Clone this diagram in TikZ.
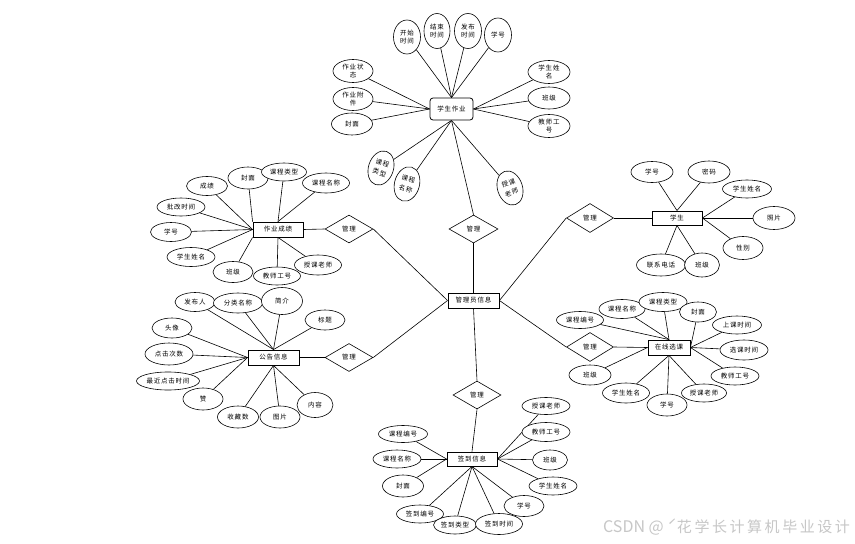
\documentclass[tikz,border=0pt]{standalone}
\usepackage{fontspec}
\newfontfamily\cjk[LetterSpace=12]{Noto Sans CJK SC}
\newfontfamily\wmlat{Noto Sans CJK SC}
\newfontfamily\wmcn[LetterSpace=17]{Noto Sans CJK SC}
\usetikzlibrary{shapes.geometric,backgrounds}
\begin{document}
\begin{tikzpicture}[x=1pt,y=-1pt,
  every node/.style={font=\cjk\fontsize{6.5}{8}\selectfont, align=center},
  attr/.style 2 args={ellipse, draw, line width=0.6pt, fill=white, inner sep=0pt, minimum width=#1pt, minimum height=#2pt},
  tilt/.style={font=\cjk\fontsize{6.5}{10}\selectfont},
  ent/.style={draw, line width=0.9pt, fill=white, inner sep=0pt, minimum width=50pt, minimum height=15pt},
  rel/.style={diamond, draw, line width=0.6pt, fill=white, aspect=1.7, inner sep=0pt, minimum width=48pt, minimum height=28pt},
  conn/.style={draw, line width=0.6pt}]
\useasboundingbox (0,0) rectangle (855,544);

% ---------- top cluster: 学生作业 ----------
\node[draw, line width=0.8pt, rounded corners=3pt, fill=white, inner sep=0pt, minimum width=43pt, minimum height=22pt] (zy) at (451.5,109) {学生作业};
\node[attr={27}{34}] (t1) at (407,37) {开始\\时间};
\node[attr={26}{35}] (t2) at (437,31) {结束\\时间};
\node[attr={27}{35}] (t3) at (468,31) {发布\\时间};
\node[attr={27}{34}] (t4) at (498,35) {学号};
\node[attr={40}{23}] (t5) at (353,71) {作业状\\态};
\node[attr={40}{23}] (t6) at (353,99) {作业附\\件};
\node[attr={41}{22}] (t7) at (352,124) {封面};
\node[attr={42}{23}] (t8) at (549,72) {学生姓\\名};
\node[attr={42}{22}] (t9) at (549,98) {班级};
\node[attr={42}{23}] (t10) at (549,126) {教师工\\号};
\node[attr={25}{35}, tilt, rotate=-18] (t11) at (381,168) {课程\\类型};
\node[attr={25}{35}, tilt, rotate=-15] (t12) at (407,184) {课程\\名称};
\node[attr={25}{35}, tilt, rotate=18] (t13) at (510,188) {授课\\老师};

% ---------- center ----------
\node[rel, minimum width=49pt] (m1) at (473.5,229) {管理};
\node[ent, minimum width=51pt] (adm) at (473.5,300.5) {管理员信息};
\node[rel] (m2) at (349,229) {管理};
\node[rel, minimum width=47pt, minimum height=29pt] (m3) at (590,218) {管理};
\node[rel] (m4) at (349,357.5) {管理};
\node[rel, minimum width=47pt, minimum height=29pt] (m5) at (590,347) {管理};
\node[rel] (m6) at (477,395) {管理};

% ---------- 作业成绩 ----------
\node[ent] (cj) at (278,229.5) {作业成绩};
\node[attr={41}{19}] (cjb) at (207,186) {成绩};
\node[attr={40}{22}] (cjf) at (248,178) {封面};
\node[attr={45}{18}] (cjl) at (284,172) {课程类型};
\node[attr={47}{20}] (cjm) at (326,183) {课程名称};
\node[attr={48}{18}] (cjp) at (181,207) {批改时间};
\node[attr={41}{19}] (cjx) at (171,232) {学号};
\node[attr={48}{19}] (cjn) at (191,257) {学生姓名};
\node[attr={40}{21}] (cjc) at (233,272) {班级};
\node[attr={47}{18}] (cjg) at (277,276) {教师工号};
\node[attr={47}{20}] (cjt) at (318,265) {授课老师};

% ---------- 学生 ----------
\node[ent, minimum height=14pt] (xs) at (677,218) {学生};
\node[attr={42}{21}] (xsh) at (652,172) {学号};
\node[attr={42}{22}] (xsm) at (709,172) {密码};
\node[attr={49}{18}] (xsn) at (747,189) {学生姓名};
\node[attr={42}{23}] (xsz) at (774,218) {照片};
\node[attr={40}{23}] (xsx) at (743,248) {性别};
\node[attr={49}{22}] (xsd) at (661,265) {联系电话};
\node[attr={35}{24}] (xsb) at (702,265) {班级};

% ---------- 公告信息 ----------
\node[ent, minimum width=51pt] (gg) at (273.5,357.5) {公告信息};
\node[attr={40}{19}] (ggf) at (195,302) {发布人};
\node[attr={49}{20}] (ggl) at (238,303) {分类名称};
\node[attr={41}{27}] (ggj) at (282,301) {简介};
\node[attr={40}{20}] (ggb) at (325,320) {标题};
\node[attr={40}{20}] (ggt) at (172,328) {头像};
\node[attr={48}{22}] (ggd) at (169,354) {点击次数};
\node[attr={63}{18}] (ggz) at (168,381) {最近点击时间};
\node[attr={40}{22}] (ggs) at (203,399) {赞};
\node[attr={41}{22}] (ggc) at (238,417) {收藏数};
\node[attr={40}{22}] (ggp) at (280,417) {图片};
\node[attr={36}{25}] (ggn) at (315,405) {内容};

% ---------- 在线选课 ----------
\node[ent, minimum width=42pt] (xk) at (669,347.5) {在线选课};
\node[attr={47}{17}] (xkb) at (580,320) {课程编号};
\node[attr={46}{19}] (xkm) at (622,309) {课程名称};
\node[attr={48}{19}] (xkl) at (663,302) {课程类型};
\node[attr={37}{20}] (xkf) at (698,312) {封面};
\node[attr={49}{18}] (xks) at (737,325) {上课时间};
\node[attr={48}{20}] (xkx) at (744,350) {选课时间};
\node[attr={48}{18}] (xkg) at (735,376) {教师工号};
\node[attr={45}{18}] (xkt) at (704,393) {授课老师};
\node[attr={40}{22}] (xkh) at (667,405) {学号};
\node[attr={47}{20}] (xkn) at (626,393) {学生姓名};
\node[attr={42}{20}] (xkc) at (590,375) {班级};

% ---------- 签到信息 ----------
\node[ent, minimum height=14pt] (qd) at (472,459) {签到信息};
\node[attr={49}{17}] (qdb) at (403,434) {课程编号};
\node[attr={48}{18}] (qdm) at (397,459) {课程名称};
\node[attr={41}{22}] (qdf) at (403,486) {封面};
\node[attr={48}{17}] (qdt) at (546,406) {授课老师};
\node[attr={48}{19}] (qdg) at (546,432) {教师工号};
\node[attr={35}{20}] (qdc) at (550,460) {班级};
\node[attr={48}{18}] (qdn) at (553,486) {学生姓名};
\node[attr={40}{21}] (qdh) at (524,506) {学号};
\node[attr={47}{18}] (qdbh) at (420,514) {签到编号};
\node[attr={43}{18}] (qdl) at (455,525) {签到类型};
\node[attr={47}{21}] (qdsj) at (499,524) {签到时间};

% ---------- watermark ----------
\node[anchor=west, text=black!22, inner sep=0pt, font=\fontsize{15}{15}\selectfont] (wm) at (603,527) {{\wmlat\fontsize{16}{16}\selectfont CSDN @ ˊ}{\wmcn 花学长计算机毕业设计}};

\begin{pgfonlayer}{background}
\fill[white] (0,0) rectangle (855,544);
% 学生作业
\foreach \a in {t1,t2,t3,t4} \draw[conn] (\a) -- (zy.north);
\foreach \a in {t5,t6,t7} \draw[conn] (\a) -- (zy.west);
\foreach \a in {t8,t9,t10} \draw[conn] (\a) -- (zy.east);
\foreach \a in {t11,t12,t13} \draw[conn] (\a) -- (zy.south);
\draw[conn] (zy.south) -- (m1.north);
% center
\draw[conn] (m1.south) -- (adm.north);
\draw[conn] (adm.west) -- (m2.east);
\draw[conn] (adm.west) -- (m4.east);
\draw[conn] (adm.east) -- (m3.west);
\draw[conn] (adm.east) -- (m5.west);
\draw[conn] (adm.south) -- (m6.north);
\draw[conn] (m2.west) -- (cj.east);
\draw[conn] (m3.east) -- (xs.west);
\draw[conn] (m4.west) -- (gg.east);
\draw[conn] (m5.east) -- (xk.west);
\draw[conn] (m6.south) -- (qd.north);
% 作业成绩
\foreach \a in {cjb,cjp,cjx,cjn} \draw[conn] (\a) -- (cj.west);
\draw[conn] (cjf) -- (cj.north west);
\foreach \a in {cjl,cjm} \draw[conn] (\a) -- (cj.north);
\draw[conn] (cjc) -- (cj.south west);
\foreach \a in {cjg,cjt} \draw[conn] (\a) -- (cj.south);
% 学生
\foreach \a in {xsh,xsm} \draw[conn] (\a) -- (xs.north);
\foreach \a in {xsn,xsz,xsx} \draw[conn] (\a) -- (xs.east);
\foreach \a in {xsd,xsb} \draw[conn] (\a) -- (xs.south);
% 公告信息
\foreach \a in {ggf,ggl,ggj,ggb} \draw[conn] (\a) -- (gg.north);
\foreach \a in {ggt,ggd,ggz,ggs} \draw[conn] (\a) -- (gg.west);
\foreach \a in {ggc,ggp,ggn} \draw[conn] (\a) -- (gg.south);
% 在线选课
\foreach \a in {xkb,xkm,xkl} \draw[conn] (\a) -- (xk.north);
\foreach \a in {xkf,xks,xkx,xkg} \draw[conn] (\a) -- (xk.east);
\foreach \a in {xkt,xkh,xkn} \draw[conn] (\a) -- (xk.south);
\draw[conn] (xkc) -- (xk.west);
% 签到信息
\foreach \a in {qdb,qdm,qdf} \draw[conn] (\a) -- (qd.west);
\foreach \a in {qdt,qdg,qdc,qdn} \draw[conn] (\a) -- (qd.east);
\foreach \a in {qdh,qdbh,qdl,qdsj} \draw[conn] (\a) -- (qd.south);
\end{pgfonlayer}
\end{tikzpicture}
\end{document}
